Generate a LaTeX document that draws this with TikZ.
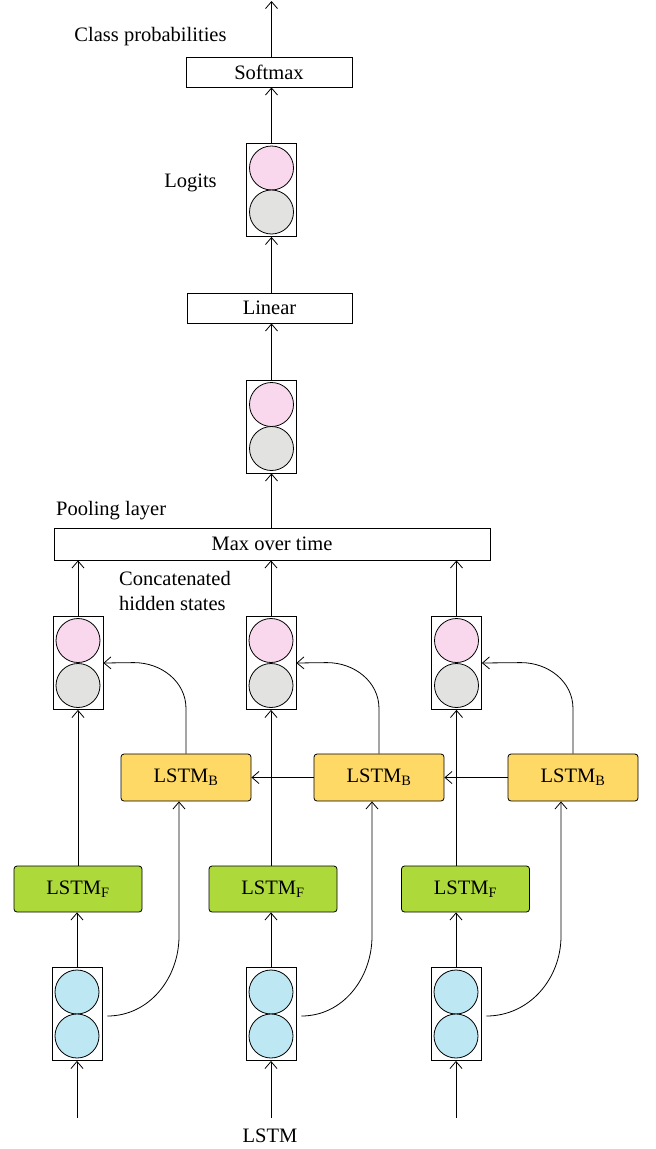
\documentclass[tikz,border=0pt]{standalone}
\usepackage{fontspec}
\setmainfont{Liberation Serif}
\usetikzlibrary{positioning,arrows.meta,calc}
\definecolor{unitpink}{HTML}{F9D8EE}
\definecolor{unitgray}{HTML}{E2E2E0}
\definecolor{unitblue}{HTML}{BDE7F2}
\definecolor{fwdgreen}{HTML}{AED93B}
\definecolor{bwdyellow}{HTML}{FFD966}
\tikzset{
    every node/.style={font=\fontsize{20.5}{25}\selectfont},
    flow/.style={draw,line width=0.8pt,-{Straight Barb[length=7pt,width=12pt]}},
    layerbox/.style={draw,line width=0.8pt,minimum height=30pt,inner sep=0pt},
    vecbox/.style={draw,line width=0.8pt,minimum width=50pt,minimum height=93pt,inner sep=0pt},
    unit/.style={circle,draw,line width=0.8pt,minimum size=44pt,inner sep=0pt},
    lstmf/.style={draw,rounded corners=3pt,fill=fwdgreen,line width=0.8pt,minimum width=128pt,minimum height=46pt,inner sep=0pt},
    lstmb/.style={draw,rounded corners=3pt,fill=bwdyellow,line width=0.8pt,minimum width=130pt,minimum height=47pt,inner sep=0pt},
    note/.style={inner sep=0pt,align=left}
}

\begin{document}
\begin{tikzpicture}[x=1pt,y=-1pt]
\useasboundingbox (0,0) rectangle (656,1149);

% output part
\node[layerbox,minimum width=166pt] (sm) at (269,72) {Softmax};
\coordinate (out) at (271.5,1);
\node[note] (cp) at (150.5,37) {Class probabilities};
\node[vecbox] (lg) at (271.5,190) {};
\node[unit,fill=unitpink] (lgp) at ([yshift=22pt]lg.center) {};
\node[unit,fill=unitgray] (lgg) at ([yshift=-22pt]lg.center) {};
\node[note] (lgt) at (190.5,183) {Logits};
\node[layerbox,minimum width=165pt] (lin) at (269.5,308) {Linear};
\node[vecbox] (pv) at (271.5,426.5) {};
\node[unit,fill=unitpink] (pvp) at ([yshift=22pt]pv.center) {};
\node[unit,fill=unitgray] (pvg) at ([yshift=-22pt]pv.center) {};

% pooling
\node[layerbox,minimum width=436pt,minimum height=32pt] (mx) at (272,544) {Max over time};
\node[note,anchor=west] (pl) at (56,511) {Pooling layer};
\node[note,anchor=west] (ch) at (119,590.5) {Concatenated\\hidden states};

% concatenated hidden states
\node[vecbox] (c1) at (78,663) {};
\node[unit,fill=unitpink] (c1p) at ([yshift=22.5pt]c1.center) {};
\node[unit,fill=unitgray] (c1g) at ([yshift=-22.5pt]c1.center) {};
\node[vecbox] (c2) at (271,663) {};
\node[unit,fill=unitpink] (c2p) at ([yshift=22.5pt]c2.center) {};
\node[unit,fill=unitgray] (c2g) at ([yshift=-22.5pt]c2.center) {};
\node[vecbox] (c3) at (456.5,663) {};
\node[unit,fill=unitpink] (c3p) at ([yshift=22.5pt]c3.center) {};
\node[unit,fill=unitgray] (c3g) at ([yshift=-22.5pt]c3.center) {};

% backward and forward cells
\node[lstmb] (lb1) at (186,777.5) {LSTM\textsubscript{B}};
\node[lstmb] (lb2) at (379,777.5) {LSTM\textsubscript{B}};
\node[lstmb] (lb3) at (573,777.5) {LSTM\textsubscript{B}};
\node[lstmf] (lf1) at (78,889) {LSTM\textsubscript{F}};
\node[lstmf] (lf2) at (273,889) {LSTM\textsubscript{F}};
\node[lstmf] (lf3) at (465.5,889) {LSTM\textsubscript{F}};

% inputs
\node[vecbox] (i1) at (77,1014) {};
\node[unit,fill=unitblue] (i1a) at ([yshift=22pt]i1.center) {};
\node[unit,fill=unitblue] (i1b) at ([yshift=-22pt]i1.center) {};
\node[vecbox] (i2) at (271,1014) {};
\node[unit,fill=unitblue] (i2a) at ([yshift=22pt]i2.center) {};
\node[unit,fill=unitblue] (i2b) at ([yshift=-22pt]i2.center) {};
\node[vecbox] (i3) at (456,1014) {};
\node[unit,fill=unitblue] (i3a) at ([yshift=22pt]i3.center) {};
\node[unit,fill=unitblue] (i3b) at ([yshift=-22pt]i3.center) {};
\coordinate (in1) at (77,1118);
\coordinate (in2) at (271,1118);
\coordinate (in3) at (456,1118);
\node[note] (lstm) at (270,1136) {LSTM};

% connectors
\draw[flow] (sm.north -| lg.north) -- (out);
\draw[flow] (lg.north) -- (lg.north |- sm.south);
\draw[flow] (lin.north -| lg.north) -- (lg.south);
\draw[flow] (pv.north) -- (pv.north |- lin.south);
\draw[flow] (mx.north -| pv.south) -- (pv.south);
\draw[flow] (c1.north) -- (c1.north |- mx.south);
\draw[flow] (c2.north) -- (c2.north |- mx.south);
\draw[flow] (c3.north) -- (c3.north |- mx.south);
\draw[flow] (lb3.west) -- (lb2.east);
\draw[flow] (lb2.west) -- (lb1.east);
\draw[flow] (lb1.north) -- ++(0,-45) to[out=90,in=0] ++(-52,-46) -- (c1.east);
\draw[flow] (lb2.north) -- ++(0,-45) to[out=90,in=0] ++(-52,-46) -- (c2.east);
\draw[flow] (lb3.north) -- ++(0,-45) to[out=90,in=0] ++(-52,-46) -- (c3.east);
\draw[flow] (c1.south |- lf1.north) -- (c1.south);
\draw[flow] (c2.south |- lf2.north) -- (c2.south);
\draw[flow] (c3.south |- lf3.north) -- (c3.south);
\draw[flow] (i1.north) -- (i1.north |- lf1.south);
\draw[flow] (i2.north) -- (i2.north |- lf2.south);
\draw[flow] (i3.north) -- (i3.north |- lf3.south);
\draw[flow] ([shift={(5pt,-2pt)}]i1.east) to[out=0,in=-90] ($(lb1.south |- i1.north)+(-7,-31)$) -- ([xshift=-7pt]lb1.south);
\draw[flow] ([shift={(5pt,-2pt)}]i2.east) to[out=0,in=-90] ($(lb2.south |- i2.north)+(-7,-31)$) -- ([xshift=-7pt]lb2.south);
\draw[flow] ([shift={(5pt,-2pt)}]i3.east) to[out=0,in=-90] ($(lb3.south |- i3.north)+(-12,-31)$) -- ([xshift=-12pt]lb3.south);
\draw[flow] (in1) -- (i1.south);
\draw[flow] (in2) -- (i2.south);
\draw[flow] (in3) -- (i3.south);
\end{tikzpicture}
\end{document}
